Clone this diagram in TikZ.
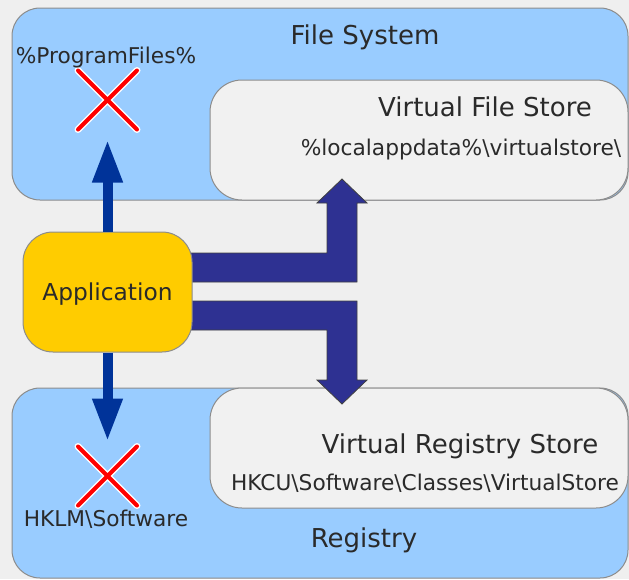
\documentclass[tikz,border=0pt]{standalone}
\usepackage{fontspec}
\setmainfont{DejaVu Sans}
\usetikzlibrary{arrows.meta,shapes.misc}
\definecolor{bggray}{HTML}{EFEFEF}
\definecolor{boxgray}{HTML}{8C8C8C}
\definecolor{fsblue}{HTML}{99CCFF}
\definecolor{storegray}{HTML}{F1F1F1}
\definecolor{appyellow}{HTML}{FFCC00}
\definecolor{arrowblue}{HTML}{003399}
\definecolor{arrowpurple}{HTML}{2E3192}
\definecolor{txtgray}{HTML}{2A2A2A}

\begin{document}
\begin{tikzpicture}[x=1pt,y=-1pt]
\tikzstyle{every node}+=[inner sep=0pt]
\tikzstyle{bluebox}=[draw=boxgray, fill=fsblue, rounded corners=28pt, line width=1pt]
\tikzstyle{storebox}=[draw=boxgray, fill=storegray, rounded corners=32pt, line width=1pt]
\tikzstyle{appbox}=[draw=boxgray, fill=appyellow, rounded corners=30pt, line width=1pt]
\tikzstyle{bigtext}=[anchor=base, text=txtgray, font=\fontsize{26}{30}\selectfont]
\tikzstyle{smalltext}=[anchor=base, text=txtgray, font=\fontsize{21.7}{26}\selectfont]
\tikzstyle{crossmark}=[cross out, draw=red, line width=4pt, line cap=round, minimum size=55pt, preaction={draw=white, line width=7pt}]
\tikzstyle{thinarrow}=[draw=arrowblue, line width=10pt, -{Triangle[length=43pt,width=28pt]}]
\tikzstyle{bigarrow}=[fill=arrowpurple, draw=black!75, line width=0.8pt]
\fill [bggray] (0,0) rectangle (629,579);
\useasboundingbox (0,0) rectangle (629,579);
\node [bluebox, minimum width=616pt, minimum height=192pt] (fs) at (320,104) {};
\node [storebox, minimum width=418pt, minimum height=120pt] (vfs) at (419,140) {};
\node [bluebox, minimum width=616pt, minimum height=190pt] (reg) at (320,483) {};
\node [storebox, minimum width=418pt, minimum height=120pt] (vrs) at (419,448) {};
\draw [bigarrow] (150,253) -- (327,253) -- (327,203) -- (317,203) -- (342,179) -- (367,203) -- (357,203) -- (357,282) -- (150,282) -- cycle;
\draw [bigarrow] (150,301) -- (357,301) -- (357,380) -- (367,380) -- (342,404) -- (317,380) -- (327,380) -- (327,330) -- (150,330) -- cycle;
\node [appbox, minimum width=169pt, minimum height=120pt] (app) at (107.5,292) {};
\node [crossmark] (xtop) at (107.5,100) {};
\node [crossmark] (xbot) at (107.5,476) {};
\draw [thinarrow, shorten >=10pt] (app) -- (xtop);
\draw [thinarrow, shorten >=5pt] (app) -- (xbot);
\node [bigtext] (fslabel) at (365,44) {File System};
\node [bigtext] (vfslabel) at (485,116) {Virtual File Store};
\node [smalltext] (vfspath) at (461,155) {\%localappdata\%\textbackslash virtualstore\textbackslash};
\node [bigtext] (reglabel) at (364,547) {Registry};
\node [bigtext] (vrslabel) at (460,453) {Virtual Registry Store};
\node [smalltext] (vrspath) at (425,490) {HKCU\textbackslash Software\textbackslash Classes\textbackslash VirtualStore};
\node [smalltext] (pflabel) at (106,63) {\%ProgramFiles\%};
\node [smalltext] (hklmlabel) at (106,526) {HKLM\textbackslash Software};
\node [smalltext, font=\fontsize{23.3}{28}\selectfont] (applabel) at (107.5,300) {Application};
\end{tikzpicture}
\end{document}
